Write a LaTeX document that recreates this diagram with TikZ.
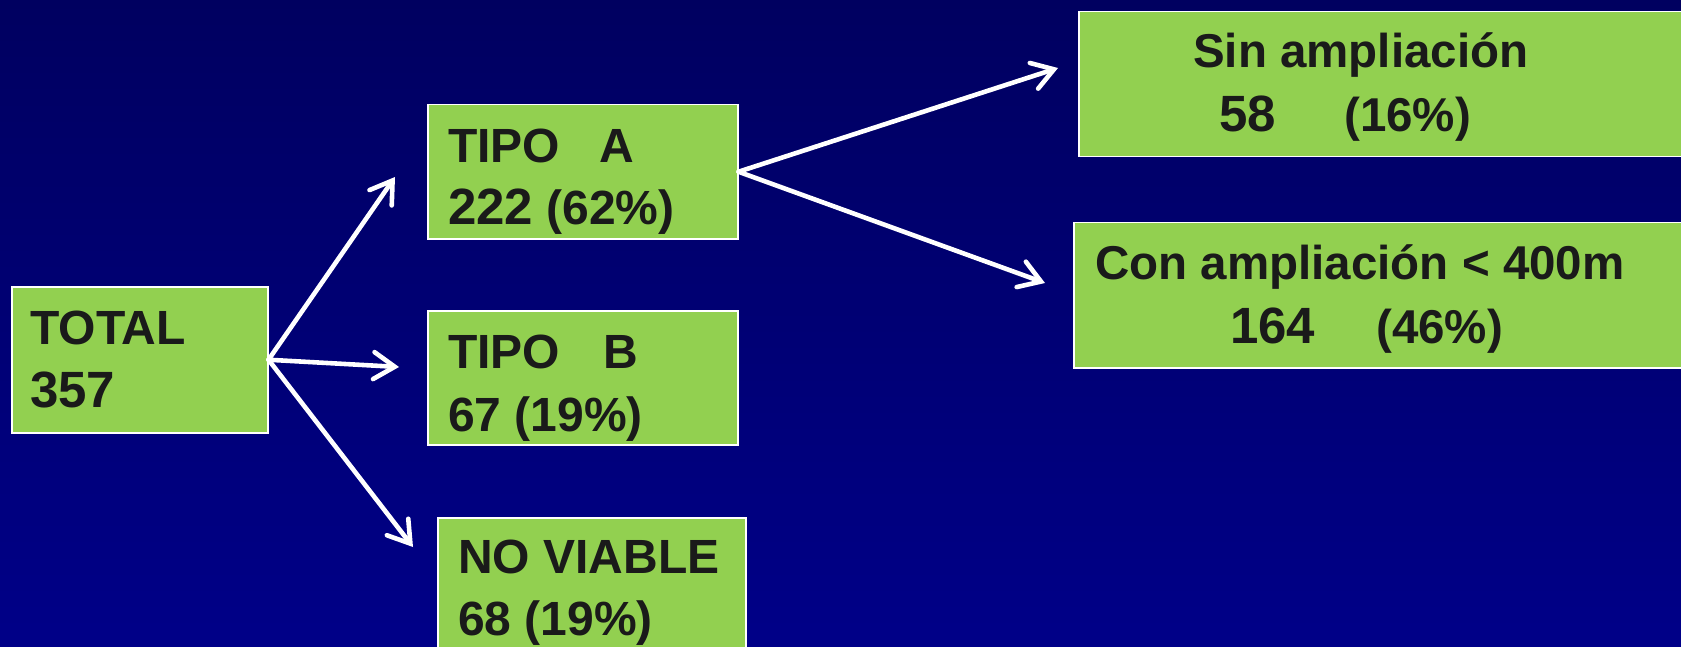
\documentclass[tikz,border=0pt]{standalone}
\usepackage{fontspec}
\setmainfont{Liberation Sans}
\usetikzlibrary{arrows.meta}
\definecolor{bgtop}{RGB}{0,0,96}
\definecolor{bgbot}{RGB}{0,0,136}
\definecolor{boxgreen}{RGB}{146,208,80}
\definecolor{txt}{RGB}{26,26,26}
\newcommand{\bignum}[1]{{\fontsize{51}{60}\selectfont #1}}
\begin{document}
\begin{tikzpicture}[x=1pt,y=-1pt,
  box/.style={draw=white, line width=1.5pt, fill=boxgreen, anchor=north west, inner sep=0pt},
  lbl/.style={anchor=base west, inner sep=0pt, text=txt, font=\fontsize{48}{60}\selectfont\bfseries},
  nlbl/.style={anchor=base west, inner sep=0pt, text=txt, font=\fontsize{47.5}{56}\selectfont\bfseries},
  conn/.style={draw=white, line width=4.6pt, line cap=round, -{Straight Barb[length=21pt,width=27pt,line cap=round]}}
]
\useasboundingbox (0,0) rectangle (1681,647);
\shade[top color=bgtop, bottom color=bgbot] (0,0) rectangle (1681,647);

% boxes
\node[box, minimum width=256pt, minimum height=146pt] (total) at (11,286) {};
\node[box, minimum width=310pt, minimum height=134pt] (tipoa) at (427,104) {};
\node[box, minimum width=310pt, minimum height=134pt] (tipob) at (427,310) {};
\node[box, minimum width=308pt, minimum height=200pt] (novia) at (437,517) {};
\node[box, minimum width=700pt, minimum height=145pt] (sin) at (1078,11) {};
\node[box, minimum width=700pt, minimum height=145pt] (con) at (1073,222) {};

% texts
\node[lbl] (totalt1) at (30,344) {TOTAL};
\node[lbl] (totalt2) at (30,407) {\bignum{357}};
\node[lbl] (tipoat1) at (448,163) {TIPO\hspace{39pt}A};
\node[lbl] (tipoat2) at (448,225) {\bignum{222} (62\%)};
\node[lbl] (tipobt1) at (448,368) {TIPO\hspace{43pt}B};
\node[lbl] (tipobt2) at (448,431) {67 (19\%)};
\node[lbl] (noviat1) at (458,573) {NO VIABLE};
\node[lbl] (noviat2) at (458,635) {68 (19\%)};
\node[nlbl] (sint1) at (1193,68) {Sin ampliación};
\node[nlbl] (sint2) at (1219,132) {\bignum{58}};
\node[nlbl] (sint3) at (1344,132) {(16\%)};
\node[nlbl] (cont1) at (1095,279) {Con ampliación < 400m};
\node[nlbl] (cont2) at (1230,343) {\bignum{164}};
\node[nlbl] (cont3) at (1376,343) {(46\%)};

% connector ends
\coordinate (pa) at (395,177);
\coordinate (pb) at (399,367);
\coordinate (pn) at (413,547);
\coordinate (ps) at (1058,68);
\coordinate (pc) at (1045,283);

\draw[conn] (total.east) -- (pa);
\draw[conn] (total.east) -- (pb);
\draw[conn] (total.east) -- (pn);
\draw[conn] (tipoa.east) -- (ps);
\draw[conn] (tipoa.east) -- (pc);
\end{tikzpicture}
\end{document}
